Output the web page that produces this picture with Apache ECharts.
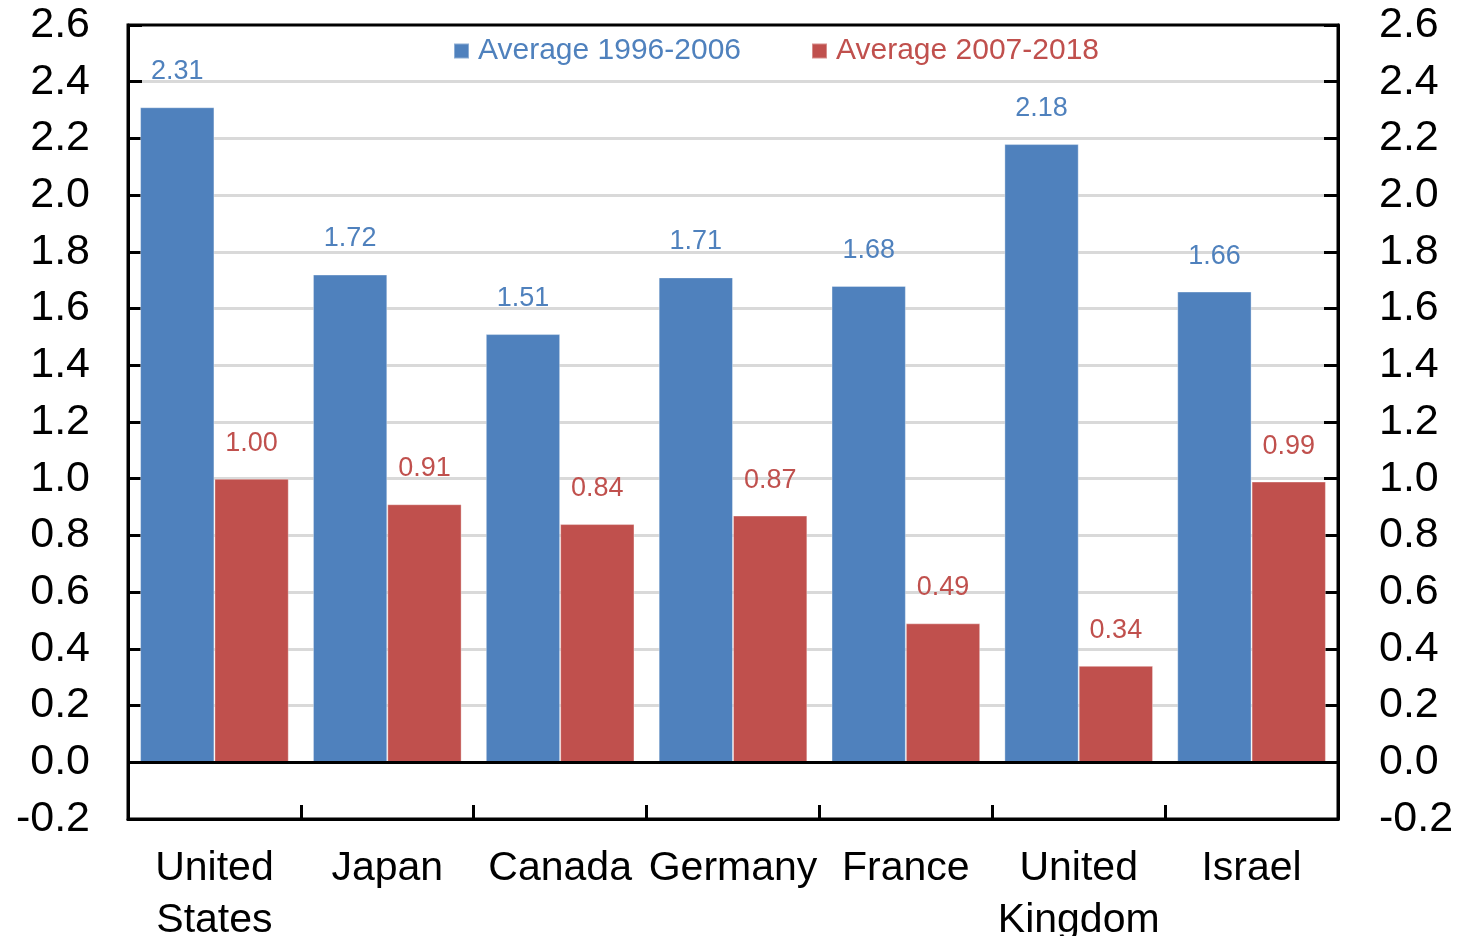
<!DOCTYPE html>
<html>
<head>
<meta charset="utf-8">
<script src="https://cdn.jsdelivr.net/npm/echarts@6/dist/echarts.min.js"></script>
<style>
  html, body { margin: 0; padding: 0; background: #fff; }
  #chart { width: 1463px; height: 936px; }
</style>
</head>
<body>
<div id="chart"></div>
<script>
// Country categories and the two period averages
const countries = ['United\nStates', 'Japan', 'Canada', 'Germany', 'France', 'United\nKingdom', 'Israel'];
const seriesNames = ['Average 1996-2006', 'Average 2007-2018'];
const avg1996to2006 = [2.31, 1.72, 1.51, 1.71, 1.68, 2.18, 1.66];
const avg2007to2018 = [1.00, 0.91, 0.84, 0.87, 0.49, 0.34, 0.99];

// Value axis range
const yMin = -0.2;
const yMax = 2.6;
const yStep = 0.2;

const BLUE = '#4F81BD';
const RED = '#C0504D';
const FONT = '"Liberation Sans", Arial, sans-serif';

const chart = echarts.init(document.getElementById('chart'), null, { renderer: 'canvas' });

function valueAxis(position, showGrid) {
  return {
    type: 'value',
    position: position,
    min: yMin,
    max: yMax,
    interval: yStep,
    axisLine: { show: true, lineStyle: { color: '#000', width: 3 } },
    axisTick: { show: true, inside: true, length: 14, lineStyle: { color: '#000', width: 3 } },
    axisLabel: {
      color: '#000',
      fontFamily: FONT,
      fontSize: 43,
      margin: position === 'left' ? 38 : 41,
      formatter: v => (Math.round(v * 10) / 10).toFixed(1)
    },
    splitLine: {
      show: showGrid,
      showMinLine: false,
      showMaxLine: false,
      lineStyle: { color: '#D9D9D9', width: 3 }
    }
  };
}

function barSeries(name, values, color, withZeroLine) {
  const s = {
    name: name,
    type: 'bar',
    data: values,
    barGap: '0%',
    barCategoryGap: '14%',
    itemStyle: { color: color, borderColor: 'rgba(255,255,255,0.35)', borderWidth: 1 },
    label: {
      show: true,
      position: 'top',
      distance: 22,
      color: color,
      fontFamily: FONT,
      fontSize: 27,
      formatter: p => p.value.toFixed(2)
    },
    z: 3
  };
  if (withZeroLine) {
    s.markLine = {
      silent: true,
      symbol: ['none', 'none'],
      label: { show: false },
      lineStyle: { color: '#000', width: 3, type: 'solid' },
      data: [{ yAxis: 0 }],
      z: 5
    };
  }
  return s;
}

chart.setOption({
  animation: false,
  backgroundColor: '#fff',
  grid: {
    left: 128,
    right: 125,
    top: 25,
    bottom: 117,
    show: true,
    borderColor: '#000',
    borderWidth: 3,
    containLabel: false,
    outerBoundsMode: 'none'
  },
  legend: {
    left: 453,
    top: 36,
    padding: 0,
    itemWidth: 15,
    itemHeight: 15,
    itemGap: 70,
    icon: 'rect',
    textStyle: { fontFamily: FONT, fontSize: 30, padding: [0, 0, 0, 4] },
    data: [
      { name: seriesNames[0], textStyle: { color: BLUE } },
      { name: seriesNames[1], textStyle: { color: RED } }
    ]
  },
  xAxis: {
    type: 'category',
    data: countries,
    position: 'bottom',
    axisLine: { show: true, onZero: false, lineStyle: { color: '#000', width: 3 } },
    axisTick: { show: true, inside: true, length: 14, alignWithLabel: false, lineStyle: { color: '#000', width: 3 } },
    axisLabel: {
      color: '#000',
      fontFamily: FONT,
      fontSize: 41,
      lineHeight: 52,
      margin: 24,
      interval: 0
    },
    splitLine: { show: false }
  },
  yAxis: [valueAxis('left', true), valueAxis('right', false)],
  series: [
    barSeries(seriesNames[0], avg1996to2006, BLUE, true),
    barSeries(seriesNames[1], avg2007to2018, RED, false)
  ]
});
</script>
</body>
</html>
